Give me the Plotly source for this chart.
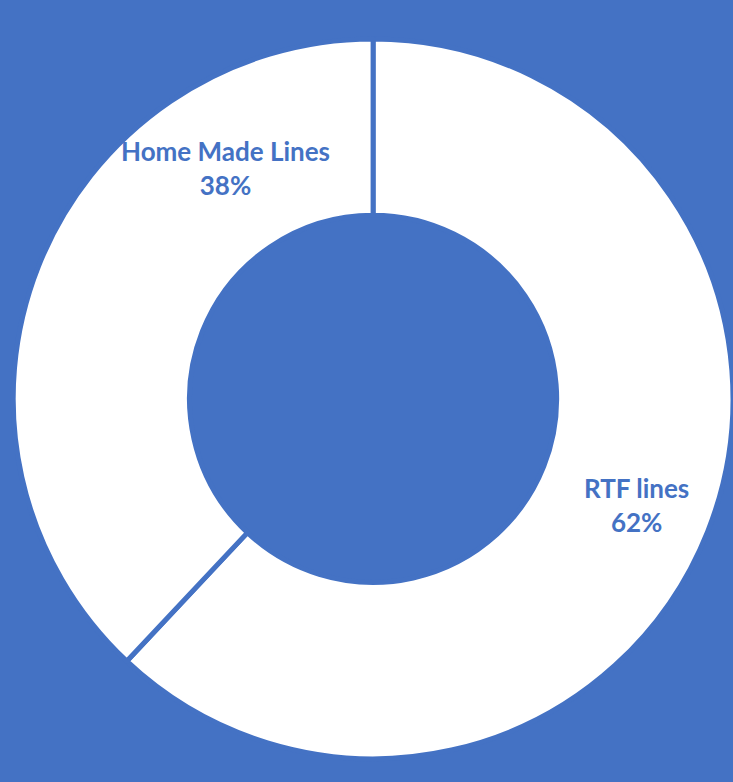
import plotly.graph_objects as go

labels = ["RTF lines", "Home Made Lines"]
values = [62, 38]

BLUE = "#4472C4"

fig = go.Figure(go.Pie(
    labels=labels,
    values=values,
    sort=False,
    direction="clockwise",
    rotation=0,
    hole=0.51,
    textinfo="none",
    hoverinfo="label+percent",
    marker=dict(colors=["white", "white"], line=dict(color=BLUE, width=5)),
    domain=dict(x=[0.018, 1.0], y=[0.02, 0.96]),
    showlegend=False,
))

total = sum(values)
pct = [round(v * 100 / total) for v in values]
label_pos = [(0.869, 0.354), (0.3083, 0.785)]
for lab, p, (x, y) in zip(labels, pct, label_pos):
    fig.add_annotation(
        x=x, y=y, xref="paper", yref="paper",
        xanchor="center", yanchor="middle",
        text=f"<b>{lab}<br>{p}%</b>", showarrow=False,
        font=dict(family="Lato", size=26, color=BLUE),
        align="center",
    )

fig.update_layout(
    width=733, height=782,
    margin=dict(l=0, r=0, t=0, b=0),
    paper_bgcolor=BLUE, plot_bgcolor=BLUE,
)

fig.write_html(
    "out.html",
    config={"displayModeBar": False},
    post_script="document.body.style.margin='0';document.body.style.overflow='hidden';",
)
